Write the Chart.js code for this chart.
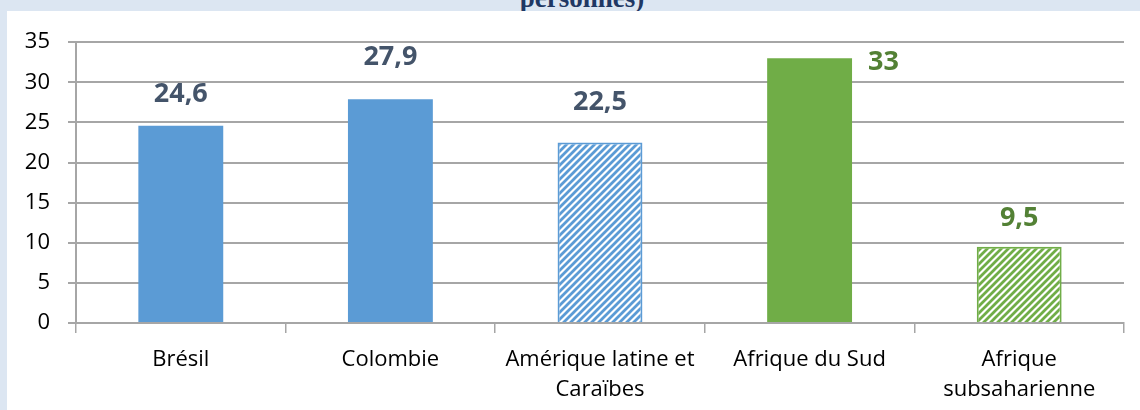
<!DOCTYPE html>
<html>
<head>
<meta charset="utf-8">
<script src="https://cdn.jsdelivr.net/npm/chart.js@4.4.1/dist/chart.umd.min.js"></script>
<style>
  html, body { margin: 0; padding: 0; }
  body { width: 1140px; height: 410px; background: #dce6f2; position: relative; overflow: hidden; }
  #titre { position: absolute; left: 0; width: 1164px; top: -15px; text-align: center;
    font: bold 27px/27px "Liberation Serif", "Times New Roman", serif; color: #1f3864; }
  #zone { position: absolute; left: 7px; top: 11px; width: 1133px; height: 399px; background: #fff; }
</style>
</head>
<body>
<div id="titre">personnes)</div>
<div id="zone"><canvas id="graph" width="1133" height="399"></canvas></div>
<script>
// données
const categories = ['Brésil', 'Colombie', ['Amérique latine et', 'Caraïbes'], 'Afrique du Sud', ['Afrique', 'subsaharienne']];
const valeurs = [24.6, 27.9, 22.5, 33, 9.5];
const yTicks = [0, 5, 10, 15, 20, 25, 30, 35];

// styles
const bleu = '#5b9bd5';
const vert = '#70ad47';
const couleurs = [bleu, bleu, bleu, vert, vert];
const hachures = [false, false, true, false, true];
const couleursEtiquettes = ['#44546a', '#44546a', '#44546a', '#538135', '#538135'];
const grisAxe = '#a6a6a6';

function motif(couleur) {
  const s = 7;
  const c = document.createElement('canvas');
  c.width = s; c.height = s;
  const g = c.getContext('2d');
  g.fillStyle = '#fff';
  g.fillRect(0, 0, s, s);
  g.strokeStyle = couleur;
  g.lineWidth = 2.8;
  g.beginPath();
  g.moveTo(0, s); g.lineTo(s, 0);
  g.moveTo(-1, 1); g.lineTo(1, -1);
  g.moveTo(s - 1, s + 1); g.lineTo(s + 1, s - 1);
  g.stroke();
  return g.createPattern(c, 'repeat');
}

const fonds = couleurs.map((c, i) => hachures[i] ? motif(c) : c);

const etiquettes = {
  id: 'etiquettes',
  afterDatasetsDraw(chart, args, opts) {
    const ctx = chart.ctx;
    const meta = chart.getDatasetMeta(0);
    ctx.save();
    ctx.font = 'bold 27px "Open Sans"';
    ctx.textBaseline = 'alphabetic';
    meta.data.forEach((bar, i) => {
      const texte = String(valeurs[i]).replace('.', ',');
      ctx.fillStyle = couleursEtiquettes[i];
      const lift = opts.lift[i];
      if (lift == null) {
        // pas de place au-dessus : à droite de la barre
        ctx.textAlign = 'left';
        ctx.fillText(texte, bar.x + bar.width / 2 + 16, bar.y + 12);
      } else {
        ctx.textAlign = 'center';
        ctx.fillText(texte, bar.x, bar.y - lift);
      }
    });
    ctx.restore();
  }
};

new Chart(document.getElementById('graph'), {
  type: 'bar',
  data: {
    labels: categories,
    datasets: [{
      data: valeurs,
      backgroundColor: fonds,
      borderColor: couleurs,
      borderWidth: hachures.map(h => h ? 2 : 0),
      barPercentage: 0.405,
      categoryPercentage: 1
    }]
  },
  options: {
    responsive: false,
    animation: false,
    layout: { padding: { left: 7, right: 16, top: 30, bottom: 0 } },
    plugins: {
      legend: { display: false },
      tooltip: { enabled: false },
      etiquettes: { lift: [24, 34, 32, null, 21] }
    },
    scales: {
      x: {
        afterFit(s) { s.height = 87; },
        grid: { display: true, drawOnChartArea: false, drawTicks: true, tickLength: 10, color: grisAxe, lineWidth: 1.5, offset: true },
        border: { display: true, color: grisAxe, width: 2 },
        ticks: { color: '#000', padding: 12, font: { family: 'Open Sans', size: 22, lineHeight: 1.36 }, maxRotation: 0, autoSkip: false }
      },
      y: {
        min: 0,
        max: 35,
        afterFit(s) { s.width = 62; },
        afterBuildTicks(s) { s.ticks = yTicks.map(v => ({ value: v })); },
        grid: { color: grisAxe, lineWidth: 2, tickLength: 8 },
        border: { display: true, color: grisAxe, width: 2 },
        ticks: { color: '#000', padding: 18, font: { family: 'Open Sans', size: 22 } }
      }
    }
  },
  plugins: [etiquettes]
});
</script>
</body>
</html>
